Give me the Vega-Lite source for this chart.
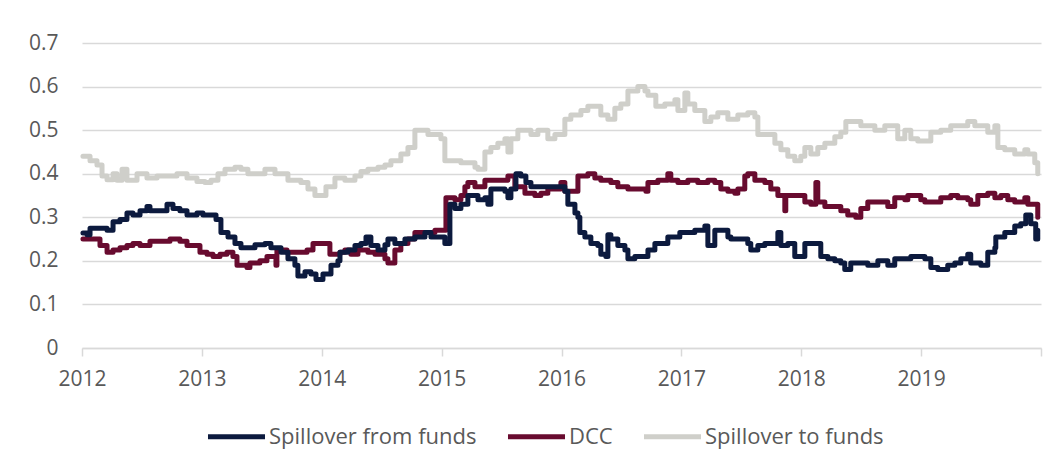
{
  "$schema": "https://vega.github.io/schema/vega-lite/v6.json",
  "width": 959,
  "height": 305,
  "autosize": "none",
  "padding": {"left": 82, "top": 43, "right": 17, "bottom": 124},
  "background": "white",
  "config": {
    "view": {"stroke": null},
    "font": "Open Sans"
  },
  "datasets": {
    "to": [
      {"t":2012.008,"v":0.44},{"t":2012.067,"v":0.43},{"t":2012.125,"v":0.42},{"t":2012.167,"v":0.395},{"t":2012.209,"v":0.386},{"t":2012.259,"v":0.40},{"t":2012.292,"v":0.385},{"t":2012.334,"v":0.41},{"t":2012.375,"v":0.385},{"t":2012.459,"v":0.40},{"t":2012.542,"v":0.39},{"t":2012.626,"v":0.395},{"t":2012.709,"v":0.395},{"t":2012.792,"v":0.40},{"t":2012.876,"v":0.39},{"t":2012.959,"v":0.382},
      {"t":2013.026,"v":0.38},{"t":2013.076,"v":0.385},{"t":2013.134,"v":0.40},{"t":2013.193,"v":0.41},{"t":2013.276,"v":0.415},{"t":2013.326,"v":0.41},{"t":2013.384,"v":0.40},{"t":2013.468,"v":0.40},{"t":2013.526,"v":0.41},{"t":2013.610,"v":0.40},{"t":2013.693,"v":0.40},{"t":2013.718,"v":0.385},{"t":2013.776,"v":0.385},{"t":2013.826,"v":0.38},{"t":2013.885,"v":0.365},{"t":2013.943,"v":0.35},
      {"t":2014.027,"v":0.35},{"t":2014.035,"v":0.37},{"t":2014.110,"v":0.39},{"t":2014.193,"v":0.385},{"t":2014.277,"v":0.395},{"t":2014.327,"v":0.405},{"t":2014.385,"v":0.41},{"t":2014.469,"v":0.415},{"t":2014.527,"v":0.42},{"t":2014.577,"v":0.43},{"t":2014.660,"v":0.445},{"t":2014.719,"v":0.46},{"t":2014.777,"v":0.50},{"t":2014.827,"v":0.50},{"t":2014.886,"v":0.49},{"t":2014.944,"v":0.49},{"t":2014.994,"v":0.48},
      {"t":2015.027,"v":0.43},{"t":2015.111,"v":0.43},{"t":2015.161,"v":0.425},{"t":2015.219,"v":0.425},{"t":2015.278,"v":0.415},{"t":2015.303,"v":0.41},{"t":2015.361,"v":0.45},{"t":2015.411,"v":0.46},{"t":2015.469,"v":0.47},{"t":2015.528,"v":0.48},{"t":2015.553,"v":0.45},{"t":2015.578,"v":0.48},{"t":2015.636,"v":0.50},{"t":2015.695,"v":0.50},{"t":2015.745,"v":0.49},{"t":2015.803,"v":0.50},{"t":2015.886,"v":0.48},{"t":2015.945,"v":0.49},{"t":2015.995,"v":0.49},
      {"t":2016.028,"v":0.525},{"t":2016.078,"v":0.535},{"t":2016.162,"v":0.545},{"t":2016.220,"v":0.555},{"t":2016.303,"v":0.555},{"t":2016.328,"v":0.535},{"t":2016.387,"v":0.525},{"t":2016.445,"v":0.55},{"t":2016.495,"v":0.56},{"t":2016.554,"v":0.59},{"t":2016.637,"v":0.60},{"t":2016.696,"v":0.59},{"t":2016.721,"v":0.58},{"t":2016.787,"v":0.555},{"t":2016.862,"v":0.56},{"t":2016.946,"v":0.57},{"t":2016.971,"v":0.545},
      {"t":2017.029,"v":0.585},{"t":2017.054,"v":0.56},{"t":2017.112,"v":0.545},{"t":2017.196,"v":0.52},{"t":2017.246,"v":0.53},{"t":2017.304,"v":0.54},{"t":2017.388,"v":0.525},{"t":2017.471,"v":0.535},{"t":2017.554,"v":0.54},{"t":2017.613,"v":0.53},{"t":2017.638,"v":0.49},{"t":2017.696,"v":0.49},{"t":2017.780,"v":0.47},{"t":2017.830,"v":0.455},{"t":2017.888,"v":0.44},{"t":2017.946,"v":0.43},{"t":2017.996,"v":0.44},
      {"t":2018.030,"v":0.46},{"t":2018.080,"v":0.445},{"t":2018.138,"v":0.46},{"t":2018.197,"v":0.47},{"t":2018.280,"v":0.485},{"t":2018.330,"v":0.495},{"t":2018.372,"v":0.52},{"t":2018.447,"v":0.52},{"t":2018.497,"v":0.51},{"t":2018.555,"v":0.51},{"t":2018.614,"v":0.50},{"t":2018.697,"v":0.51},{"t":2018.780,"v":0.51},{"t":2018.805,"v":0.48},{"t":2018.864,"v":0.50},{"t":2018.914,"v":0.48},{"t":2018.972,"v":0.475},
      {"t":2019.056,"v":0.475},{"t":2019.081,"v":0.495},{"t":2019.164,"v":0.50},{"t":2019.247,"v":0.51},{"t":2019.331,"v":0.51},{"t":2019.389,"v":0.52},{"t":2019.448,"v":0.51},{"t":2019.498,"v":0.51},{"t":2019.556,"v":0.495},{"t":2019.615,"v":0.51},{"t":2019.640,"v":0.46},{"t":2019.698,"v":0.455},{"t":2019.781,"v":0.445},{"t":2019.865,"v":0.455},{"t":2019.890,"v":0.445},{"t":2019.948,"v":0.425},{"t":2019.973,"v":0.40}
    ],
    "dcc": [
      {"t":2012.008,"v":0.25},{"t":2012.067,"v":0.25},{"t":2012.150,"v":0.235},{"t":2012.209,"v":0.22},{"t":2012.259,"v":0.225},{"t":2012.317,"v":0.23},{"t":2012.375,"v":0.235},{"t":2012.425,"v":0.24},{"t":2012.484,"v":0.235},{"t":2012.567,"v":0.245},{"t":2012.734,"v":0.25},{"t":2012.817,"v":0.245},{"t":2012.876,"v":0.235},{"t":2012.984,"v":0.22},
      {"t":2013.043,"v":0.215},{"t":2013.093,"v":0.21},{"t":2013.151,"v":0.215},{"t":2013.209,"v":0.22},{"t":2013.259,"v":0.21},{"t":2013.293,"v":0.19},{"t":2013.376,"v":0.185},{"t":2013.401,"v":0.195},{"t":2013.484,"v":0.20},{"t":2013.543,"v":0.21},{"t":2013.618,"v":0.19},{"t":2013.626,"v":0.225},{"t":2013.710,"v":0.22},{"t":2013.877,"v":0.225},{"t":2013.927,"v":0.24},
      {"t":2014.052,"v":0.24},{"t":2014.068,"v":0.215},{"t":2014.152,"v":0.22},{"t":2014.193,"v":0.225},{"t":2014.243,"v":0.215},{"t":2014.302,"v":0.225},{"t":2014.385,"v":0.22},{"t":2014.444,"v":0.215},{"t":2014.527,"v":0.205},{"t":2014.552,"v":0.195},{"t":2014.610,"v":0.225},{"t":2014.660,"v":0.24},{"t":2014.719,"v":0.25},{"t":2014.777,"v":0.265},{"t":2014.944,"v":0.27},
      {"t":2015.036,"v":0.345},{"t":2015.111,"v":0.34},{"t":2015.161,"v":0.35},{"t":2015.194,"v":0.37},{"t":2015.219,"v":0.38},{"t":2015.278,"v":0.37},{"t":2015.361,"v":0.385},{"t":2015.553,"v":0.395},{"t":2015.611,"v":0.37},{"t":2015.695,"v":0.355},{"t":2015.778,"v":0.35},{"t":2015.828,"v":0.355},{"t":2015.886,"v":0.365},{"t":2015.995,"v":0.38},
      {"t":2016.028,"v":0.36},{"t":2016.137,"v":0.395},{"t":2016.220,"v":0.40},{"t":2016.278,"v":0.39},{"t":2016.328,"v":0.385},{"t":2016.412,"v":0.38},{"t":2016.470,"v":0.37},{"t":2016.554,"v":0.365},{"t":2016.704,"v":0.36},{"t":2016.721,"v":0.38},{"t":2016.804,"v":0.385},{"t":2016.887,"v":0.40},{"t":2016.912,"v":0.385},{"t":2016.971,"v":0.38},
      {"t":2017.054,"v":0.385},{"t":2017.137,"v":0.38},{"t":2017.221,"v":0.385},{"t":2017.279,"v":0.38},{"t":2017.329,"v":0.365},{"t":2017.388,"v":0.36},{"t":2017.446,"v":0.355},{"t":2017.471,"v":0.365},{"t":2017.529,"v":0.395},{"t":2017.554,"v":0.40},{"t":2017.613,"v":0.385},{"t":2017.696,"v":0.38},{"t":2017.746,"v":0.365},{"t":2017.805,"v":0.35},{"t":2017.863,"v":0.315},{"t":2017.871,"v":0.35},
      {"t":2018.030,"v":0.335},{"t":2018.080,"v":0.33},{"t":2018.122,"v":0.38},{"t":2018.138,"v":0.335},{"t":2018.197,"v":0.325},{"t":2018.330,"v":0.315},{"t":2018.388,"v":0.305},{"t":2018.455,"v":0.30},{"t":2018.497,"v":0.32},{"t":2018.555,"v":0.335},{"t":2018.722,"v":0.325},{"t":2018.780,"v":0.345},{"t":2018.864,"v":0.34},{"t":2018.889,"v":0.35},{"t":2018.997,"v":0.34},
      {"t":2019.031,"v":0.335},{"t":2019.164,"v":0.345},{"t":2019.247,"v":0.35},{"t":2019.306,"v":0.345},{"t":2019.389,"v":0.34},{"t":2019.414,"v":0.33},{"t":2019.473,"v":0.35},{"t":2019.556,"v":0.355},{"t":2019.615,"v":0.345},{"t":2019.665,"v":0.35},{"t":2019.723,"v":0.34},{"t":2019.781,"v":0.335},{"t":2019.865,"v":0.345},{"t":2019.890,"v":0.33},{"t":2019.956,"v":0.33},{"t":2019.973,"v":0.30}
    ],
    "from": [
      {"t":2012.008,"v":0.264},{"t":2012.042,"v":0.26},{"t":2012.067,"v":0.275},{"t":2012.209,"v":0.27},{"t":2012.259,"v":0.29},{"t":2012.317,"v":0.295},{"t":2012.375,"v":0.31},{"t":2012.425,"v":0.305},{"t":2012.484,"v":0.315},{"t":2012.542,"v":0.325},{"t":2012.567,"v":0.315},{"t":2012.709,"v":0.33},{"t":2012.759,"v":0.32},{"t":2012.817,"v":0.315},{"t":2012.876,"v":0.305},{"t":2012.959,"v":0.31},
      {"t":2013.009,"v":0.305},{"t":2013.118,"v":0.295},{"t":2013.159,"v":0.265},{"t":2013.218,"v":0.255},{"t":2013.276,"v":0.24},{"t":2013.326,"v":0.23},{"t":2013.443,"v":0.237},{"t":2013.526,"v":0.24},{"t":2013.576,"v":0.23},{"t":2013.660,"v":0.22},{"t":2013.718,"v":0.205},{"t":2013.776,"v":0.19},{"t":2013.801,"v":0.165},{"t":2013.860,"v":0.175},{"t":2013.910,"v":0.17},{"t":2013.952,"v":0.157},
      {"t":2014.010,"v":0.17},{"t":2014.077,"v":0.19},{"t":2014.135,"v":0.20},{"t":2014.152,"v":0.22},{"t":2014.218,"v":0.225},{"t":2014.277,"v":0.235},{"t":2014.327,"v":0.24},{"t":2014.369,"v":0.255},{"t":2014.410,"v":0.235},{"t":2014.469,"v":0.225},{"t":2014.527,"v":0.237},{"t":2014.552,"v":0.25},{"t":2014.610,"v":0.24},{"t":2014.694,"v":0.25},{"t":2014.777,"v":0.255},{"t":2014.861,"v":0.265},{"t":2014.911,"v":0.255},{"t":2014.969,"v":0.255},
      {"t":2015.027,"v":0.24},{"t":2015.069,"v":0.33},{"t":2015.111,"v":0.32},{"t":2015.161,"v":0.33},{"t":2015.219,"v":0.35},{"t":2015.303,"v":0.34},{"t":2015.361,"v":0.345},{"t":2015.386,"v":0.33},{"t":2015.411,"v":0.365},{"t":2015.528,"v":0.36},{"t":2015.553,"v":0.345},{"t":2015.578,"v":0.365},{"t":2015.620,"v":0.40},{"t":2015.661,"v":0.395},{"t":2015.703,"v":0.38},{"t":2015.745,"v":0.37},{"t":2015.970,"v":0.37},
      {"t":2016.028,"v":0.36},{"t":2016.053,"v":0.33},{"t":2016.112,"v":0.31},{"t":2016.137,"v":0.30},{"t":2016.153,"v":0.265},{"t":2016.195,"v":0.255},{"t":2016.245,"v":0.24},{"t":2016.303,"v":0.235},{"t":2016.328,"v":0.215},{"t":2016.370,"v":0.21},{"t":2016.387,"v":0.26},{"t":2016.412,"v":0.25},{"t":2016.470,"v":0.235},{"t":2016.529,"v":0.225},{"t":2016.554,"v":0.205},{"t":2016.612,"v":0.21},{"t":2016.721,"v":0.225},{"t":2016.779,"v":0.24},{"t":2016.887,"v":0.255},{"t":2016.987,"v":0.265},
      {"t":2017.112,"v":0.27},{"t":2017.196,"v":0.28},{"t":2017.221,"v":0.235},{"t":2017.279,"v":0.27},{"t":2017.388,"v":0.255},{"t":2017.413,"v":0.25},{"t":2017.554,"v":0.24},{"t":2017.579,"v":0.225},{"t":2017.638,"v":0.235},{"t":2017.696,"v":0.24},{"t":2017.805,"v":0.265},{"t":2017.830,"v":0.235},{"t":2017.888,"v":0.24},{"t":2017.946,"v":0.21},
      {"t":2018.030,"v":0.24},{"t":2018.138,"v":0.24},{"t":2018.163,"v":0.21},{"t":2018.222,"v":0.205},{"t":2018.280,"v":0.20},{"t":2018.330,"v":0.195},{"t":2018.363,"v":0.18},{"t":2018.413,"v":0.195},{"t":2018.555,"v":0.19},{"t":2018.639,"v":0.20},{"t":2018.722,"v":0.19},{"t":2018.780,"v":0.205},{"t":2018.914,"v":0.21},
      {"t":2019.031,"v":0.205},{"t":2019.081,"v":0.185},{"t":2019.139,"v":0.18},{"t":2019.222,"v":0.19},{"t":2019.281,"v":0.195},{"t":2019.331,"v":0.205},{"t":2019.389,"v":0.215},{"t":2019.414,"v":0.195},{"t":2019.498,"v":0.19},{"t":2019.556,"v":0.22},{"t":2019.615,"v":0.23},{"t":2019.623,"v":0.255},{"t":2019.698,"v":0.265},{"t":2019.781,"v":0.28},{"t":2019.831,"v":0.285},{"t":2019.873,"v":0.305},{"t":2019.915,"v":0.285},{"t":2019.956,"v":0.25},{"t":2019.973,"v":0.27}
    ]
  },
  "encoding": {
    "x": {
      "field": "t", "type": "quantitative",
      "scale": {"domain": [2012, 2020], "nice": false, "zero": false},
      "axis": {
        "title": null,
        "values": [2012, 2013, 2014, 2015, 2016, 2017, 2018, 2019, 2020],
        "format": "d",
        "labelExpr": "datum.value == 2020 ? '' : datum.label",
        "labelFont": "Open Sans", "labelFontSize": 21, "labelColor": "#595959",
        "grid": false,
        "domainColor": "#d9d9d9", "domainWidth": 1.5,
        "tickColor": "#d9d9d9", "tickWidth": 1.5, "tickSize": 8,
        "labelPadding": 12,
        "labelFlush": false
      }
    },
    "y": {
      "field": "v", "type": "quantitative",
      "scale": {"domain": [0, 0.7], "nice": false},
      "axis": {
        "title": null,
        "values": [0, 0.1, 0.2, 0.3, 0.4, 0.5, 0.6, 0.7],
        "format": ".1~f",
        "labelFont": "Open Sans", "labelFontSize": 21, "labelColor": "#595959",
        "domain": false, "ticks": false, "tickSize": 0,
        "labelPadding": 24,
        "gridColor": "#d9d9d9", "gridWidth": 1.5
      }
    },
    "color": {
      "scale": {
        "domain": ["Spillover from funds", "DCC", "Spillover to funds"],
        "range": ["#0c1a3e", "#680b2f", "#cfcfca"]
      },
      "legend": {
        "title": null,
        "orient": "none",
        "direction": "horizontal",
        "legendX": 123,
        "legendY": 362,
        "symbolType": "stroke",
        "symbolSize": 3250,
        "symbolStrokeWidth": 5,
        "labelFont": "Open Sans",
        "labelFontSize": 22,
        "labelColor": "#595959",
        "labelOffset": 1,
        "columnPadding": 20,
        "labelLimit": 400
      }
    }
  },
  "layer": [
    {
      "data": {"name": "to"},
      "mark": {"type": "line", "interpolate": "step-after", "strokeWidth": 5, "strokeJoin": "round", "strokeCap": "round"},
      "encoding": {"color": {"datum": "Spillover to funds"}}
    },
    {
      "data": {"name": "dcc"},
      "mark": {"type": "line", "interpolate": "step-after", "strokeWidth": 5, "strokeJoin": "round", "strokeCap": "round"},
      "encoding": {"color": {"datum": "DCC"}}
    },
    {
      "data": {"name": "from"},
      "mark": {"type": "line", "interpolate": "step-after", "strokeWidth": 5, "strokeJoin": "round", "strokeCap": "round"},
      "encoding": {"color": {"datum": "Spillover from funds"}}
    }
  ]
}
